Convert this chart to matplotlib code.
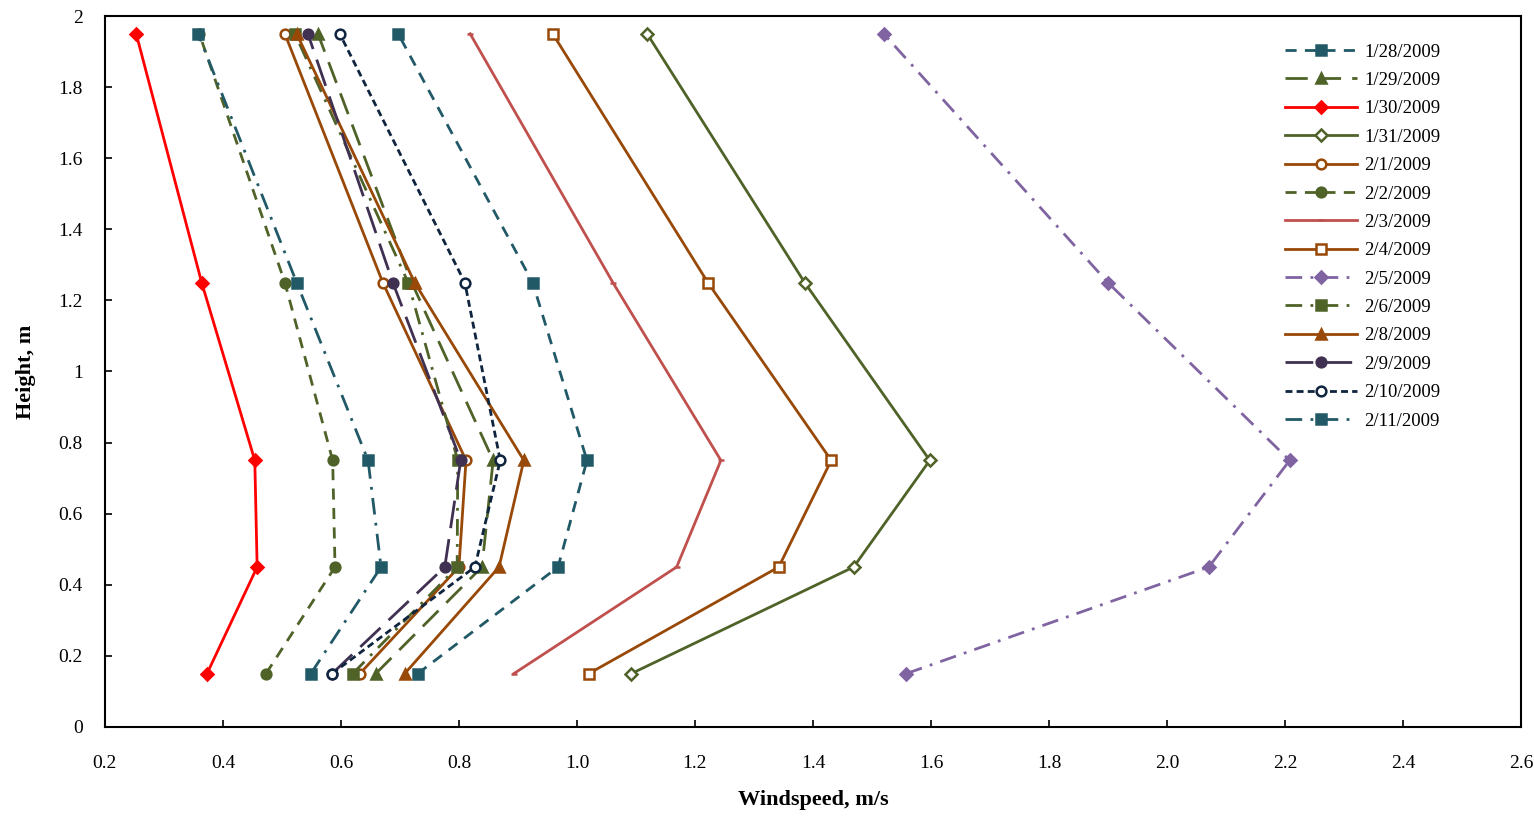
import matplotlib
matplotlib.use("Agg")
import matplotlib.pyplot as plt
from matplotlib.ticker import FormatStrFormatter, MultipleLocator

plt.rcParams['font.family'] = ['Liberation Serif', 'DejaVu Serif']

heights = [0.15, 0.45, 0.75, 1.25, 1.95]

dates = ['1/28/2009', '1/29/2009', '1/30/2009', '1/31/2009', '2/1/2009',
         '2/2/2009', '2/3/2009', '2/4/2009', '2/5/2009', '2/6/2009',
         '2/8/2009', '2/9/2009', '2/10/2009', '2/11/2009']

# windspeed at heights 0.15, 0.45, 0.75, 1.25, 1.95 m
ws_0128 = [0.730, 0.968, 1.017, 0.925, 0.697]
ws_0129 = [0.659, 0.839, 0.858, 0.720, 0.561]
ws_0130 = [0.373, 0.458, 0.454, 0.364, 0.253]
ws_0131 = [1.092, 1.469, 1.598, 1.386, 1.119]
ws_0201 = [0.632, 0.800, 0.812, 0.671, 0.505]
ws_0202 = [0.473, 0.590, 0.586, 0.505, 0.360]
ws_0203 = [0.893, 1.169, 1.244, 1.061, 0.819]
ws_0204 = [1.020, 1.342, 1.431, 1.222, 0.959]
ws_0205 = [1.558, 2.071, 2.208, 1.900, 1.520]
ws_0206 = [0.620, 0.797, 0.798, 0.714, 0.522]
ws_0208 = [0.708, 0.868, 0.910, 0.725, 0.525]
ws_0209 = [0.585, 0.776, 0.803, 0.688, 0.544]
ws_0210 = [0.585, 0.827, 0.870, 0.810, 0.598]
ws_0211 = [0.549, 0.668, 0.646, 0.525, 0.358]

series = [ws_0128, ws_0129, ws_0130, ws_0131, ws_0201, ws_0202, ws_0203,
          ws_0204, ws_0205, ws_0206, ws_0208, ws_0209, ws_0210, ws_0211]

teal = '#215967'
olive = '#4F6228'
brown = '#984807'
styles = [
    dict(color=teal, ls=(0, (4, 3)), marker='s', mfc=teal),
    dict(color=olive, ls=(0, (8, 4)), marker='^', mfc=olive),
    dict(color='#FF0000', ls='-', marker='D', mfc='#FF0000', ms=6),
    dict(color=olive, ls='-', marker='D', mfc='white', ms=6),
    dict(color=brown, ls='-', marker='o', mfc='white'),
    dict(color=olive, ls=(0, (4, 3)), marker='o', mfc=olive),
    dict(color='#C0504D', ls='-', marker='_', mfc='#C0504D', ms=5),
    dict(color=brown, ls='-', marker='s', mfc='white'),
    dict(color='#8064A2', ls=(0, (6, 3, 1, 3)), marker='D', mfc='#8064A2', ms=6),
    dict(color=olive, ls=(0, (6, 3, 1, 3)), marker='s', mfc=olive),
    dict(color=brown, ls='-', marker='^', mfc=brown),
    dict(color='#403152', ls=(0, (10, 4)), marker='o', mfc='#403152'),
    dict(color='#0F243E', ls=(0, (2.5, 1.5)), marker='o', mfc='white'),
    dict(color=teal, ls=(0, (6, 3, 1, 3)), marker='s', mfc=teal),
]

fig = plt.figure(figsize=(15.34, 8.17), dpi=100)
ax = fig.add_axes([0.0684, 0.1102, 0.9231, 0.8702])

for d, ws, st in zip(dates, series, styles):
    ax.plot(ws, heights, color=st['color'], linestyle=st['ls'], linewidth=2,
            marker=st['marker'], markersize=st.get('ms', 7),
            markerfacecolor=st['mfc'], markeredgecolor=st['color'],
            markeredgewidth=1.8, label=d)

ax.set_xlim(0.2, 2.6)
ax.set_ylim(0, 2)
ax.xaxis.set_major_locator(MultipleLocator(0.2))
ax.yaxis.set_major_locator(MultipleLocator(0.2))
ax.xaxis.set_major_formatter(FormatStrFormatter('%.1f'))
ax.yaxis.set_major_formatter(FormatStrFormatter('%g'))
ax.tick_params(axis='both', direction='in', length=5, width=1.2, labelsize=14)
ax.tick_params(axis='x', pad=20)
ax.tick_params(axis='y', pad=16)
for s in ax.spines.values():
    s.set_linewidth(1.5)

ax.set_xlabel('Windspeed, m/s', fontsize=16, fontweight='bold', labelpad=13)
ax.set_ylabel('Height, m', fontsize=16, fontweight='bold', labelpad=16)

ax.legend(loc='upper right', bbox_to_anchor=(0.955, 0.985), frameon=False,
          fontsize=13.5, handlelength=3.8, labelspacing=0.6, handletextpad=0.4)

fig.savefig('out.png', dpi=100)
